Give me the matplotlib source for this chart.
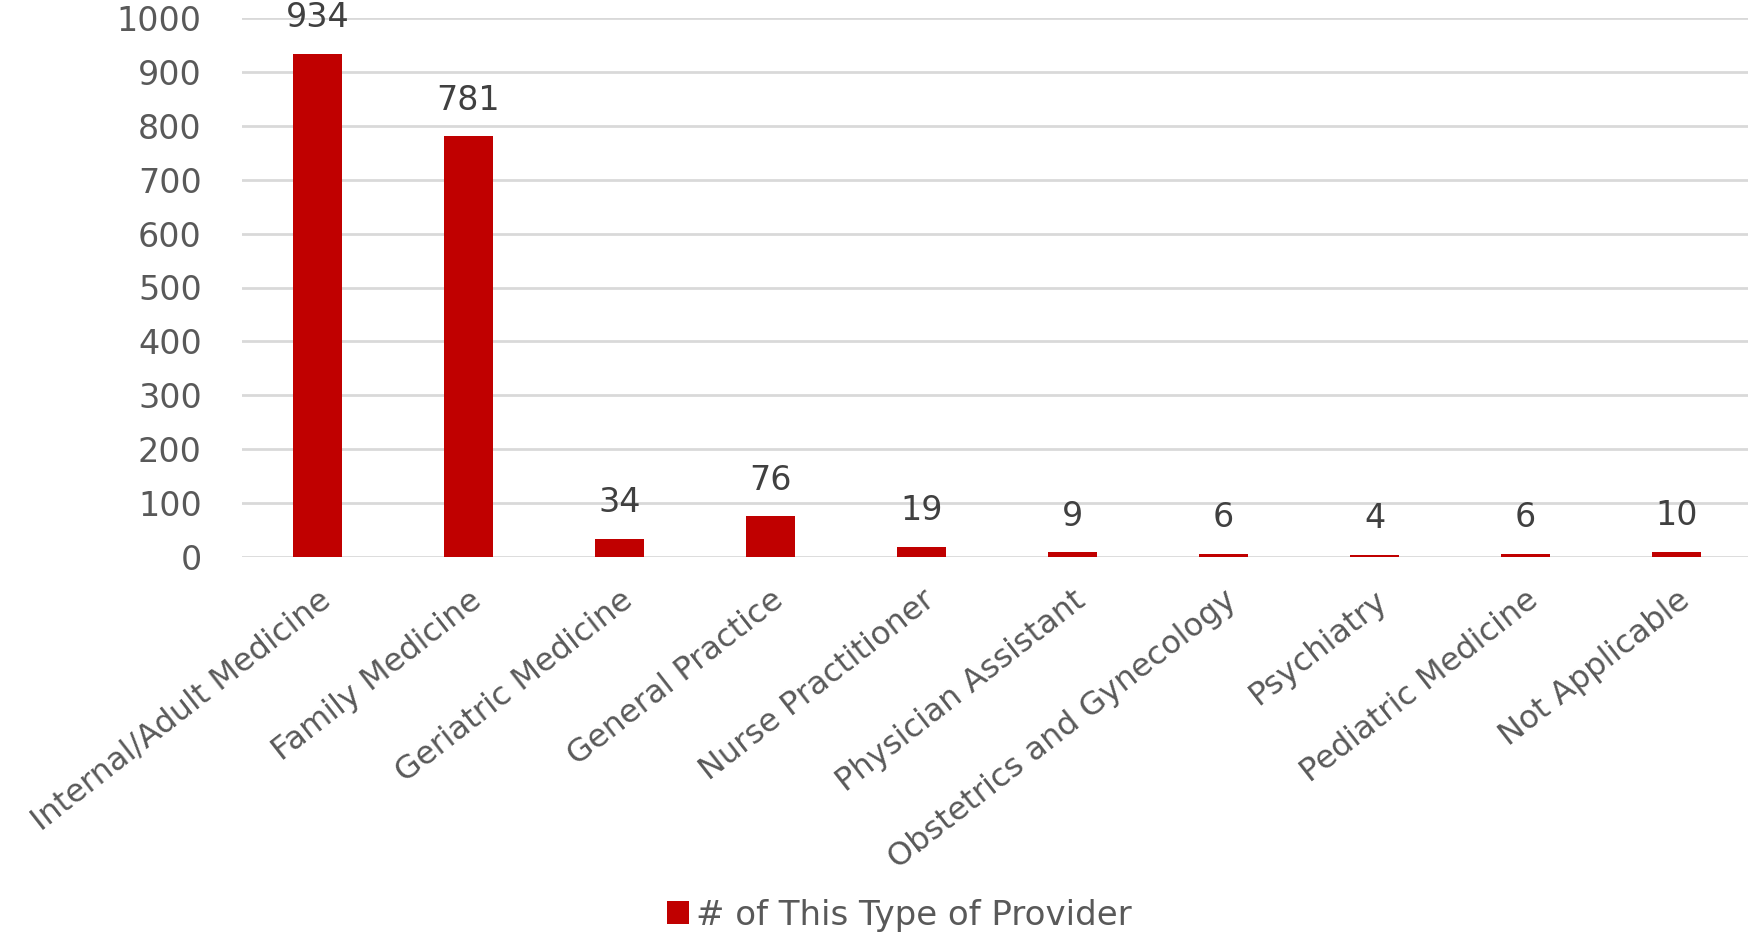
import matplotlib.pyplot as plt

categories = ["Internal/Adult Medicine", "Family Medicine", "Geriatric Medicine",
              "General Practice", "Nurse Practitioner", "Physician Assistant",
              "Obstetrics and Gynecology", "Psychiatry", "Pediatric Medicine",
              "Not Applicable"]
counts = [934, 781, 34, 76, 19, 9, 6, 4, 6, 10]
series_name = "# of This Type of Provider"

bar_color = "#c00000"
text_color = "#595959"
grid_color = "#d9d9d9"

plt.rcParams['font.family'] = ['DejaVu Sans']

fig = plt.figure(figsize=(17.48, 9.32), dpi=100)
ax = fig.add_axes([242 / 1748, 1 - 557 / 932, 1510 / 1748, (557 - 18) / 932])

x = range(len(categories))
bars = ax.bar(x, counts, width=0.32, color=bar_color, label=series_name, zorder=3)

for xi, v in zip(x, counts):
    ax.text(xi, v + 36, str(v), ha='center', va='bottom', fontsize=24, color="#404040")

ax.set_xlim(-0.5, len(categories) - 0.5)
ax.set_ylim(0, 1000)
ax.set_yticks(range(0, 1001, 100))
ax.yaxis.grid(True, color=grid_color, linewidth=2, zorder=0)
ax.set_axisbelow(True)
for s in ax.spines.values():
    s.set_visible(False)
ax.tick_params(axis='both', length=0, labelcolor=text_color)
ax.tick_params(axis='y', pad=29, labelsize=24)
ax.set_xticks(list(x))
ax.set_xticklabels(categories, rotation=38, ha='right', rotation_mode='anchor')
ax.tick_params(axis='x', pad=20, labelsize=23)

leg = fig.legend(handles=[bars], labels=[series_name], loc='center',
                 bbox_to_anchor=(899 / 1748, 1 - 915 / 932), frameon=False,
                 fontsize=24.5, handlelength=0.65, handleheight=0.65, handletextpad=0.2)
for t in leg.get_texts():
    t.set_color(text_color)

fig.savefig("out.png", dpi=100)
